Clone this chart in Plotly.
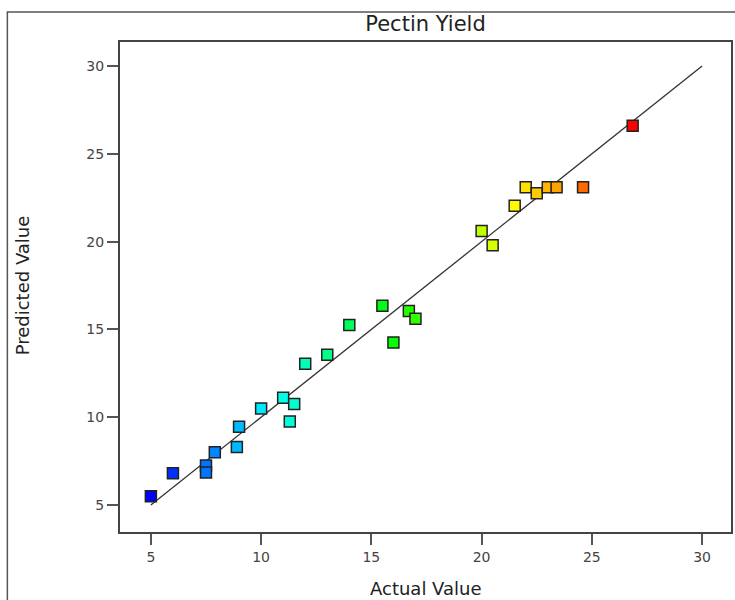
import plotly.graph_objects as go

# Data
actual = [5.0, 6.0, 7.5, 7.5, 7.9, 8.9, 9.0, 10.0, 11.0, 11.5, 11.3, 12.0, 13.0,
          14.0, 15.5, 16.0, 16.7, 17.0, 20.0, 20.5, 21.5, 22.0, 22.5, 23.0, 23.4,
          24.6, 26.85]
predicted = [5.5, 6.8, 7.25, 6.85, 8.0, 8.3, 9.45, 10.5, 11.1, 10.75, 9.75, 13.05,
             13.55, 15.25, 16.35, 14.25, 16.05, 15.6, 20.6, 19.8, 22.05, 23.1,
             22.75, 23.1, 23.1, 23.1, 26.6]
ref_line = [5, 30]
tick_vals = [5, 10, 15, 20, 25, 30]

rainbow = [[0.0, "#0000ff"], [0.25, "#00ffff"], [0.5, "#00ff00"],
           [0.75, "#ffff00"], [1.0, "#ff0000"]]

fig = go.Figure()
fig.add_trace(go.Scatter(x=ref_line, y=ref_line, mode="lines",
                         line=dict(color="#333333", width=1.3),
                         showlegend=False, hoverinfo="skip"))
fig.add_trace(go.Scatter(
    x=actual, y=predicted, mode="markers", showlegend=False,
    marker=dict(symbol="square", size=11, color=actual, colorscale=rainbow,
                cmin=min(actual), cmax=max(actual),
                line=dict(color="#222222", width=1.5))))

axis_common = dict(showgrid=False, zeroline=False, showline=True, mirror=True,
                   linecolor="#444444", linewidth=2, ticks="outside", ticklen=11,
                   tickwidth=2, tickcolor="#555555", tickvals=tick_vals,
                   tickfont=dict(family="DejaVu Sans", size=14, color="#444444"))

fig.update_xaxes(range=[3.6, 31.31], **axis_common)
fig.update_yaxes(range=[3.46, 31.37], **axis_common)

fig.update_layout(
    width=735, height=600,
    margin=dict(l=120, r=2, t=42, b=68),
    plot_bgcolor="white", paper_bgcolor="white",
    title=dict(text="Pectin Yield", x=0.5, xref="paper", y=1 - 24 / 600,
               yanchor="middle", xanchor="center",
               font=dict(family="DejaVu Sans", size=21, color="#222222")),
    annotations=[
        dict(text="Actual Value", x=0.5, y=(532 - 588) / 490, xref="paper",
             yref="paper", showarrow=False, xanchor="center", yanchor="middle",
             font=dict(family="DejaVu Sans", size=18, color="#222222")),
        dict(text="Predicted Value", x=(22 - 120) / 613, y=(532 - 285) / 490,
             xref="paper", yref="paper", showarrow=False, textangle=-90,
             xanchor="center", yanchor="middle",
             font=dict(family="DejaVu Sans", size=18, color="#222222")),
    ],
    shapes=[dict(type="rect", xref="paper", yref="paper",
                 x0=(7 - 120) / 613, x1=1.1, y0=-0.2, y1=(532 - 12) / 490,
                 line=dict(color="#555555", width=1.5), layer="below")],
)

fig.write_html("out.html", config={"displayModeBar": False},
               post_script="document.body.style.margin='0';"
                           "document.body.style.overflow='hidden';")
